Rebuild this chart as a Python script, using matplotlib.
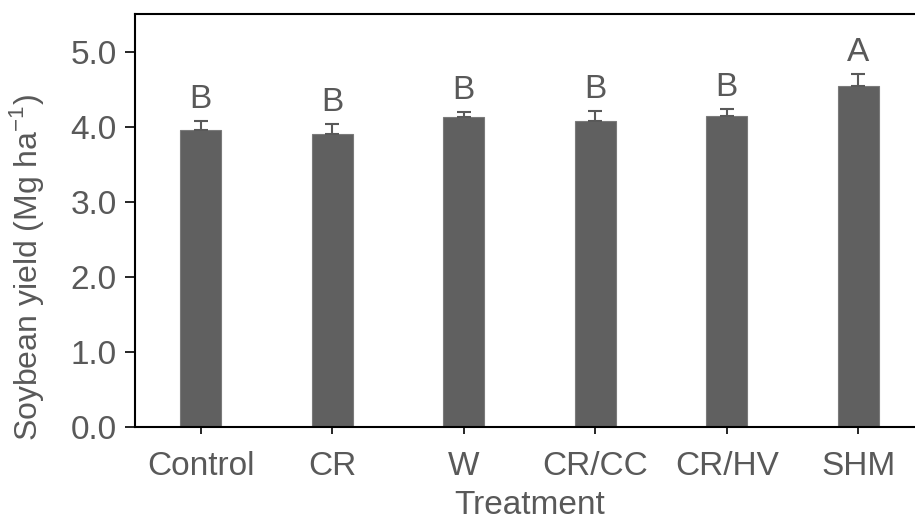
import matplotlib
matplotlib.use("Agg")
import matplotlib.pyplot as plt
import numpy as np

plt.rcParams['font.family'] = ['Liberation Sans', 'DejaVu Sans']
plt.rcParams['mathtext.fontset'] = 'custom'
plt.rcParams['mathtext.rm'] = 'Liberation Sans'

treatments = ["Control", "CR", "W", "CR/CC", "CR/HV", "SHM"]
yield_mean = [3.96, 3.90, 4.13, 4.08, 4.14, 4.54]
yield_se = [0.11, 0.13, 0.07, 0.13, 0.10, 0.16]
letters = ["B", "B", "B", "B", "B", "A"]

grey = "#595959"
fs = 24
fig = plt.figure(figsize=(9.15, 5.23), dpi=100)
ax = fig.add_axes([0.1475, 0.1836, 0.8625, 0.7896])

x = np.arange(len(treatments))
ax.bar(x, yield_mean, width=0.31, color="#606060", edgecolor="#7a7a7a", linewidth=0.8,
       yerr=[np.zeros(len(x)), yield_se], capsize=4.8,
       error_kw=dict(ecolor=grey, elinewidth=1.5, capthick=1.5))

for i in range(len(x)):
    ax.text(x[i], yield_mean[i] + yield_se[i] + 0.08, letters[i], ha="center", va="bottom",
            fontsize=fs, color=grey)

ax.set_xlim(-0.5, 5.5)
ax.set_ylim(0, 5.5)
ax.set_yticks(np.arange(0, 5.01, 1.0))
ax.set_yticklabels(["%.1f" % v for v in np.arange(0, 5.01, 1.0)])
ax.set_xticks(x)
ax.set_xticklabels(treatments)

ax.spines['right'].set_visible(False)
for s in ['top', 'left', 'bottom']:
    ax.spines[s].set_color("black")
    ax.spines[s].set_linewidth(1.5)
ax.tick_params(axis='y', direction='out', length=7, width=1.2, color="black",
               labelsize=fs, labelcolor=grey, pad=6)
ax.tick_params(axis='x', direction='out', length=5, width=1.2, color="black",
               labelsize=fs, labelcolor=grey, pad=12)

ax.set_xlabel("Treatment", fontsize=fs, color=grey, labelpad=6)
ax.set_ylabel("Soybean yield (Mg ha$^{\\mathregular{-1}}$)", fontsize=23, color=grey)
ax.yaxis.set_label_coords(-0.113, 0.387)

fig.savefig("out.png", dpi=100)
